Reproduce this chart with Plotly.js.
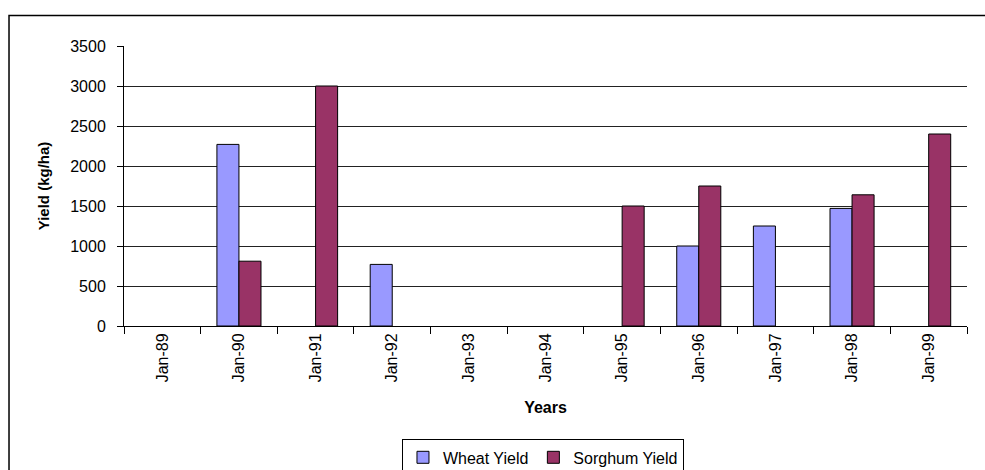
<!DOCTYPE html>
<html>
<head>
<meta charset="utf-8">
<script src="https://cdn.plot.ly/plotly-3.0.1.min.js"></script>
<style>
html, body { margin: 0; padding: 0; background: #fff; }
#chart { width: 985px; height: 470px; }
</style>
</head>
<body>
<div id="chart"></div>
<script>
const years = ["Jan-89", "Jan-90", "Jan-91", "Jan-92", "Jan-93", "Jan-94", "Jan-95", "Jan-96", "Jan-97", "Jan-98", "Jan-99"];
const wheatYield = [null, 2270, null, 770, null, null, null, 1000, 1250, 1470, null];
const sorghumYield = [null, 810, 3000, null, null, null, 1500, 1750, null, 1640, 2400];
const yTicks = [0, 500, 1000, 1500, 2000, 2500, 3000, 3500];

const font = "Liberation Sans, Arial, sans-serif";

const traces = [
  {
    type: "bar", name: "Wheat Yield", x: years, y: wheatYield,
    marker: { color: "#9999FF", line: { color: "#000000", width: 1 } }
  },
  {
    type: "bar", name: "Sorghum Yield", x: years, y: sorghumYield,
    marker: { color: "#993366", line: { color: "#000000", width: 1 } }
  }
];

const layout = {
  width: 985, height: 470,
  margin: { l: 124, r: 18, t: 46, b: 144, autoexpand: false },
  paper_bgcolor: "#ffffff", plot_bgcolor: "#ffffff",
  font: { family: font, size: 16, color: "#000000" },
  barmode: "group", bargap: 0.425, bargroupgap: 0,
  showlegend: true,
  legend: {
    orientation: "h", x: 0.497, xanchor: "center", y: -0.405, yanchor: "top",
    bordercolor: "#000000", borderwidth: 1, font: { size: 16 },
    traceorder: "normal", itemwidth: 30
  },
  xaxis: {
    type: "category", tickangle: -90, tickson: "boundaries",
    ticks: "outside", ticklen: 7, tickcolor: "#000", showgrid: false,
    showline: true, linecolor: "#000", linewidth: 1,
    tickfont: { size: 16 },
    title: { text: "<b>Years</b>", font: { size: 16 }, standoff: 20 },
    automargin: false
  },
  yaxis: {
    range: [0, 3500], tickvals: yTicks, ticktext: yTicks.map(String),
    ticks: "outside", ticklen: 6, tickcolor: "#000", ticklabelstandoff: 8,
    showgrid: true, gridcolor: "#222222", gridwidth: 1,
    showline: true, linecolor: "#000", linewidth: 1, zeroline: false,
    tickfont: { size: 16 },
    title: { text: "<b>Yield (kg/ha)</b>", font: { size: 15 }, standoff: 16 },
    automargin: false
  },
  shapes: [
    {
      type: "rect", xref: "paper", yref: "paper",
      x0: -0.1364, x1: 1.05, y0: -0.6, y1: 1.109,
      line: { color: "#000000", width: 1.5 }, fillcolor: "rgba(0,0,0,0)"
    }
  ]
};

Plotly.newPlot("chart", traces, layout, { displayModeBar: false, staticPlot: true });
</script>
</body>
</html>
